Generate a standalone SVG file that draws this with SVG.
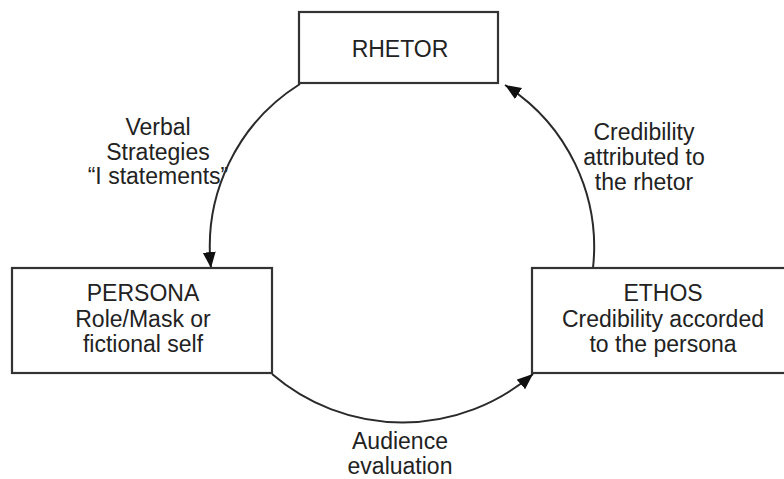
<svg xmlns="http://www.w3.org/2000/svg" width="784" height="479" viewBox="0 0 784 479">
<style>
.box{fill:#fff;stroke:#333;stroke-width:2.2}
.t{font-family:"Liberation Sans",Arial,sans-serif;font-size:23px;fill:#222;text-anchor:middle}
.c{fill:none;stroke:#2a2a2a;stroke-width:2}
</style>
<defs>
<marker id="ah" markerUnits="userSpaceOnUse" markerWidth="18" markerHeight="14" refX="16" refY="6.5" orient="auto">
<path d="M0,0 L16,6.5 L0,13 z" fill="#111"/>
</marker>
</defs>
<rect width="784" height="479" fill="#fff"/>
<g id="connectors">
<path class="c" d="M300 84 A192 192 0 0 0 211 268" marker-end="url(#ah)"/>
<path class="c" d="M593 268 A192 192 0 0 0 505 85" marker-end="url(#ah)"/>
<path class="c" d="M272 374 A200 200 0 0 0 533 374" marker-end="url(#ah)"/>
</g>
<g id="rhetor">
<rect class="box" x="299" y="12" width="199" height="71"/>
<text class="t" x="400" y="57">RHETOR</text>
</g>
<g id="persona">
<rect class="box" x="12" y="268" width="260" height="105"/>
<text class="t" x="143" y="301">PERSONA</text>
<text class="t" x="143" y="327">Role/Mask or</text>
<text class="t" x="143" y="352">fictional self</text>
</g>
<g id="ethos">
<rect class="box" x="532" y="268" width="260" height="105"/>
<text class="t" x="663" y="301">ETHOS</text>
<text class="t" x="663" y="327">Credibility accorded</text>
<text class="t" x="663" y="352">to the persona</text>
</g>
<g id="labels">
<text class="t" x="158" y="135">Verbal</text>
<text class="t" x="158" y="160">Strategies</text>
<text class="t" x="158" y="184">“I statements”</text>
<text class="t" x="644" y="140">Credibility</text>
<text class="t" x="644" y="165">attributed to</text>
<text class="t" x="644" y="190">the rhetor</text>
<text class="t" x="400" y="449">Audience</text>
<text class="t" x="400" y="474">evaluation</text>
</g>
</svg>
